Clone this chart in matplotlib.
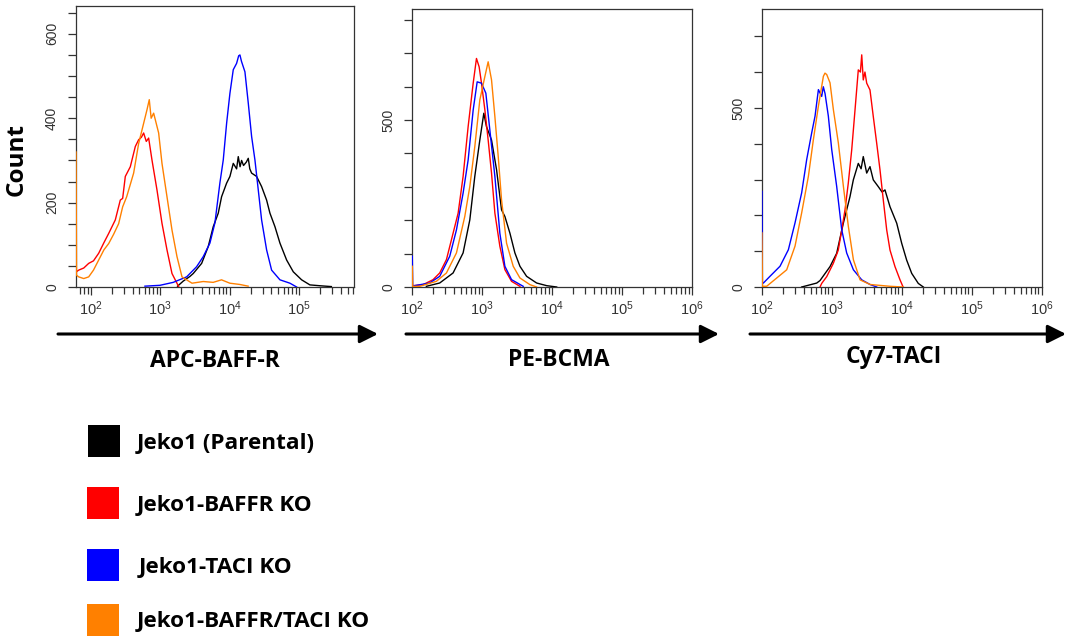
import numpy as np
import matplotlib
matplotlib.use('Agg')
import matplotlib.pyplot as plt
from matplotlib.ticker import FixedLocator, LogLocator, NullFormatter, FixedFormatter
from matplotlib.patches import Rectangle, FancyArrowPatch

plt.rcParams['font.family'] = ['Liberation Sans', 'DejaVu Sans']

# ---------------- data ----------------
series_names = ['Jeko1 (Parental)', 'Jeko1-BAFFR KO', 'Jeko1-TACI KO', 'Jeko1-BAFFR/TACI KO']
series_colors = ['#000000', '#ff0000', '#0000ff', '#ff8000']
panel_labels = ['APC-BAFF-R', 'PE-BCMA', 'Cy7-TACI']

# Panel 1: APC-BAFF-R  (x = log10 fluorescence, y = count)
baffr_parental_log = [3.25, 3.332, 3.428, 3.476, 3.597, 3.692, 3.764, 3.836, 3.884, 3.956, 4.004, 4.052,
                      4.1, 4.124, 4.15, 4.172, 4.2, 4.24, 4.268, 4.29, 4.316, 4.388, 4.46, 4.532,
                      4.58, 4.652, 4.724, 4.82, 4.916, 5.036, 5.155, 5.297, 5.464]
baffr_parental_cnt = [2, 14, 25, 32, 56, 96, 143, 175, 214, 246, 262, 293,
                      280, 309, 285, 300, 288, 296, 305, 280, 270, 262, 238, 206,
                      175, 143, 104, 64, 36, 17, 5, 3, 1]
baffr_bko_log = [1.784, 1.827, 1.9, 1.971, 2.04, 2.115, 2.19, 2.259, 2.354, 2.426, 2.46, 2.498, 2.57,
                 2.642, 2.69, 2.73, 2.762, 2.8, 2.834, 2.882, 2.954, 3.026, 3.098, 3.17, 3.266]
baffr_bko_cnt = [35, 40, 45, 56, 62, 80, 105, 127, 159, 206, 210, 262, 285,
                 333, 349, 355, 365, 345, 353, 301, 230, 151, 88, 32, 1]
baffr_tko_log = [2.781, 2.997, 3.188, 3.381, 3.524, 3.62, 3.716, 3.788, 3.86, 3.908, 3.957, 4.004, 4.052,
                 4.1, 4.13, 4.148, 4.17, 4.22, 4.268, 4.316, 4.364, 4.412, 4.46, 4.532, 4.604,
                 4.724, 4.868, 4.964]
baffr_tko_cnt = [2, 4, 11, 24, 48, 72, 104, 152, 247, 301, 389, 459, 515,
                 530, 548, 550, 535, 510, 436, 357, 301, 230, 159, 88, 40,
                 17, 9, 0]
baffr_dko_log = [1.789, 1.796, 1.827, 1.9, 1.971, 2.04, 2.115, 2.19, 2.259, 2.33, 2.402, 2.46, 2.518,
                 2.618, 2.69, 2.762, 2.81, 2.843, 2.87, 2.906, 2.978, 3.026, 3.098, 3.17, 3.242,
                 3.314, 3.458, 3.62, 3.763, 3.883, 4.003, 4.147, 4.266]
baffr_dko_cnt = [320, 28, 24, 20, 24, 40, 64, 88, 103, 125, 150, 190, 214,
                 270, 340, 388, 420, 444, 400, 412, 365, 293, 214, 135, 72,
                 24, 9, 13, 11, 17, 9, 6, 2]

# Panel 2: PE-BCMA
bcma_parental_log = [2.205, 2.396, 2.587, 2.73, 2.826, 2.897, 2.969, 3.026, 3.064, 3.136, 3.208, 3.279,
                     3.327, 3.399, 3.47, 3.542, 3.637, 3.78, 3.924, 4.067]
bcma_parental_cnt = [2, 12, 42, 102, 201, 331, 440, 520, 480, 440, 351, 231,
                     211, 161, 102, 62, 32, 12, 4, 0]
bcma_bko_log = [2.014, 2.158, 2.301, 2.396, 2.492, 2.563, 2.659, 2.73, 2.802, 2.874, 2.921, 2.959, 2.993,
                3.041, 3.088, 3.136, 3.184, 3.255, 3.327, 3.422, 3.542]
bcma_bko_cnt = [4, 7, 22, 42, 82, 141, 221, 331, 480, 610, 684, 659, 610,
                530, 440, 341, 221, 122, 52, 17, 2]
bcma_tko_log = [2.004, 2.01, 2.253, 2.396, 2.539, 2.635, 2.73, 2.802, 2.874, 2.931, 2.993, 3.055, 3.112,
                3.184, 3.255, 3.327, 3.422, 3.589]
bcma_tko_cnt = [92, 3, 12, 32, 92, 171, 281, 380, 530, 614, 610, 580, 470,
                331, 161, 62, 22, 2]
bcma_dko_log = [2.004, 2.01, 2.11, 2.348, 2.492, 2.635, 2.754, 2.826, 2.897, 2.969, 3.041, 3.088, 3.136,
                3.184, 3.232, 3.279, 3.351, 3.446, 3.542, 3.685, 3.78]
bcma_dko_cnt = [62, 2, 2, 17, 42, 102, 211, 301, 420, 560, 630, 674, 620,
                510, 390, 261, 131, 62, 27, 7, 0]

# Panel 3: Cy7-TACI
taci_parental_log = [2.571, 2.786, 2.833, 2.976, 3.071, 3.166, 3.261, 3.309, 3.38, 3.42, 3.451, 3.5,
                     3.547, 3.594, 3.666, 3.72, 3.761, 3.833, 3.929, 4.0, 4.071, 4.143, 4.237, 4.309]
taci_parental_cnt = [0, 11, 18, 57, 94, 178, 252, 299, 345, 330, 364, 318,
                     336, 299, 280, 265, 271, 224, 178, 122, 75, 38, 10, 0]
taci_bko_log = [2.833, 2.857, 2.929, 3.023, 3.094, 3.143, 3.19, 3.237, 3.286, 3.333, 3.38, 3.41, 3.429,
                3.451, 3.475, 3.5, 3.547, 3.594, 3.643, 3.69, 3.737, 3.786, 3.833, 3.904, 3.976, 4.02]
taci_bko_cnt = [0, 10, 29, 66, 103, 159, 215, 290, 383, 494, 606, 600, 648,
                578, 600, 569, 550, 476, 401, 327, 243, 159, 103, 57, 20, 0]
taci_tko_log = [2.004, 2.01, 2.024, 2.119, 2.262, 2.381, 2.476, 2.571, 2.643, 2.714, 2.762, 2.81, 2.857,
                2.88, 2.905, 2.952, 3.0, 3.071, 3.143, 3.214, 3.31, 3.429, 3.548, 3.643]
taci_tko_cnt = [267, 11, 11, 30, 58, 104, 179, 263, 356, 430, 477, 551, 532,
                559, 540, 477, 384, 281, 160, 95, 48, 20, 7, 0]
taci_dko_log = [2.004, 2.01, 2.071, 2.214, 2.357, 2.476, 2.571, 2.667, 2.738, 2.81, 2.881, 2.904, 2.929,
                2.976, 3.024, 3.095, 3.167, 3.238, 3.31, 3.405, 3.548, 3.833, 4.024]
taci_dko_cnt = [151, 2, 2, 25, 48, 114, 207, 309, 411, 505, 588, 597, 593,
                570, 495, 402, 281, 169, 76, 20, 7, 2, 0]

panels = [
    [(baffr_parental_log, baffr_parental_cnt), (baffr_bko_log, baffr_bko_cnt),
     (baffr_tko_log, baffr_tko_cnt), (baffr_dko_log, baffr_dko_cnt)],
    [(bcma_parental_log, bcma_parental_cnt), (bcma_bko_log, bcma_bko_cnt),
     (bcma_tko_log, bcma_tko_cnt), (bcma_dko_log, bcma_dko_cnt)],
    [(taci_parental_log, taci_parental_cnt), (taci_bko_log, taci_bko_cnt),
     (taci_tko_log, taci_tko_cnt), (taci_dko_log, taci_dko_cnt)],
]
x_limits_log = [(1.784, 5.79), (2.0, 6.0), (2.0, 6.0)]
y_limits = [666, 832, 776]
y_minor_step = [50, 100, 100]
y_labeled = [[0, 200, 400, 600], [0, 500], [0, 500]]
x_labeled_exp = [[2, 3, 4, 5], [2, 3, 4, 5, 6], [2, 3, 4, 5, 6]]

# ---------------- layout ----------------
W, H = 1066, 640
fig = plt.figure(figsize=(W / 100, H / 100), dpi=100)
axes_px = [(75.7, 6, 354, 287), (412, 9, 692, 287), (761.7, 9, 1041.7, 287)]
frame_col = '#333333'
tick_col = '#333333'

for i, (x0, y0, x1, y1) in enumerate(axes_px):
    ax = fig.add_axes([x0 / W, 1 - y1 / H, (x1 - x0) / W, (y1 - y0) / H])
    for (lg, ct), col in zip(panels[i], series_colors):
        ax.plot(10 ** np.asarray(lg), ct, color=col, lw=1.0, zorder=3)
    ax.set_xscale('log')
    ax.set_xlim(10 ** x_limits_log[i][0], 10 ** x_limits_log[i][1])
    ax.set_ylim(0, y_limits[i])
    # y ticks
    step = y_minor_step[i]
    all_y = list(range(0, int(y_limits[i]) + 1, step))
    ax.yaxis.set_major_locator(FixedLocator(all_y))
    ax.set_yticklabels([str(v) if v in y_labeled[i] else '' for v in all_y],
                       rotation=90, va='center', fontsize=10, color=tick_col)
    # x ticks
    ax.xaxis.set_minor_locator(LogLocator(base=10, subs=np.arange(2, 10), numticks=20))
    ax.xaxis.set_minor_formatter(NullFormatter())
    exps = x_labeled_exp[i]
    ax.xaxis.set_major_locator(FixedLocator([10.0 ** e for e in exps]))
    ax.xaxis.set_major_formatter(FixedFormatter([r'$\mathregular{10^{%d}}$' % e for e in exps]))
    ax.tick_params(axis='x', which='major', length=6, width=0.9, color=frame_col,
                   labelsize=10.5, labelcolor=tick_col, pad=3)
    ax.tick_params(axis='x', which='minor', length=5, width=0.9, color=frame_col)
    ax.tick_params(axis='y', which='major', length=6, width=0.9, color=frame_col, pad=6)
    ax.tick_params(top=False, right=False)
    for s in ax.spines.values():
        s.set_color(frame_col)
        s.set_linewidth(0.9)

# y label
fig.text(17 / W, 1 - 159 / H, 'Count', rotation=90, ha='center', va='center',
         family='Open Sans', fontweight='bold', fontsize=17.5)

# axis arrows + labels
arrows_px = [(58, 378), (406, 719), (750, 1066)]
label_px = [(215, 367), (559, 366), (894, 363)]
for (ax0, ax1), (lx, ly), lab in zip(arrows_px, label_px, panel_labels):
    fig.add_artist(FancyArrowPatch(
        (ax0 / W, 1 - 334 / H), (ax1 / W, 1 - 334 / H), transform=fig.transFigure,
        arrowstyle='-|>,head_length=1.1,head_width=0.55', mutation_scale=10,
        lw=2.2, color='black', shrinkA=0, shrinkB=0))
    fig.text(lx / W, 1 - ly / H, lab, ha='center', va='baseline',
             family='Open Sans', fontweight='bold', fontsize=16.5)

# legend
legend_sq = [(88, 425), (87, 487), (87, 549), (87, 604)]
legend_txt = [(137, 449), (137, 511), (139, 573), (137, 627)]
for (sx, sy), (tx, ty), name, col in zip(legend_sq, legend_txt, series_names, series_colors):
    fig.add_artist(Rectangle((sx / W, 1 - (sy + 32) / H), 32 / W, 32 / H,
                             transform=fig.transFigure, facecolor=col, edgecolor='none'))
    fig.text(tx / W, 1 - ty / H, name, ha='left', va='baseline',
             family='Open Sans', fontweight='bold', fontsize=16.2)

fig.savefig('out.png', dpi=100)
